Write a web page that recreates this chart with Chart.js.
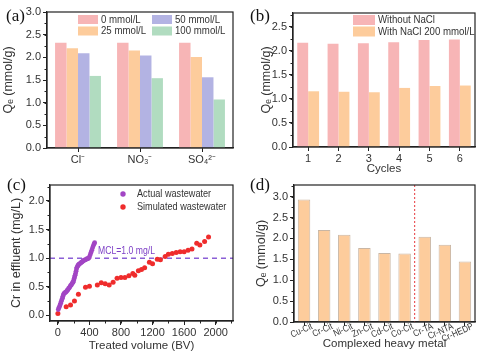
<!DOCTYPE html>
<html><head><meta charset="utf-8">
<script src="https://cdn.jsdelivr.net/npm/chart.js@4"></script>
<style>
html,body{margin:0;padding:0;background:#fff;}
#wrap{position:relative;width:491px;height:356px;overflow:hidden;background:#fff;}
.pn{position:absolute;}
.lbl{position:absolute;font-family:"Liberation Serif","DejaVu Serif",serif;font-size:17px;color:#111;line-height:1;}
</style></head><body>
<div id="wrap">
<div class="pn" style="left:0;top:0;width:245px;height:178px"><canvas id="ca"></canvas></div>
<div class="pn" style="left:245px;top:0;width:246px;height:178px"><canvas id="cb"></canvas></div>
<div class="pn" style="left:0;top:170px;width:245px;height:186px"><canvas id="cc"></canvas></div>
<div class="pn" style="left:245px;top:170px;width:246px;height:186px"><canvas id="cd"></canvas></div>
<div class="lbl" style="left:6px;top:7px">(a)</div>
<div class="lbl" style="left:250px;top:7px">(b)</div>
<div class="lbl" style="left:7px;top:176px">(c)</div>
<div class="lbl" style="left:250px;top:176px">(d)</div>
</div>
<script>
// ---------- data ----------
const anionCats = ['Cl⁻', 'NO₃⁻', 'SO₄²⁻'];
const anionLabels = ['0 mmol/L', '25 mmol/L', '50 mmol/L', '100 mmol/L'];
const anion0 = [2.32, 2.32, 2.32];
const anion25 = [2.20, 2.15, 2.01];
const anion50 = [2.09, 2.04, 1.56];
const anion100 = [1.59, 1.54, 1.07];
const qeTicksA = [0, 0.5, 1.0, 1.5, 2.0, 2.5, 3.0];

const cycles = ['1', '2', '3', '4', '5', '6'];
const withoutNaCl = [2.17, 2.15, 2.16, 2.18, 2.23, 2.24];
const withNaCl = [1.16, 1.15, 1.14, 1.23, 1.27, 1.28];
const qeTicksB = [0, 0.5, 1.0, 1.5, 2.0, 2.5];

const actualBV = [5,12,20,28,35,42,50,57,63,70,78,86,95,104,112,120,128,136,145,153,161,170,178,186,193,200,206,212,218,224,230,236,242,250,258,266,275,284,293,302,311,320,330,340,350,360,370,380,390,400,410,420,430,440,450,460,466];
const actualCr = [0.10,0.13,0.15,0.18,0.21,0.24,0.27,0.30,0.33,0.36,0.38,0.39,0.40,0.41,0.42,0.44,0.45,0.47,0.48,0.50,0.52,0.53,0.55,0.57,0.58,0.61,0.64,0.67,0.70,0.73,0.77,0.81,0.84,0.86,0.88,0.89,0.90,0.91,0.92,0.93,0.94,0.95,0.96,0.97,0.97,0.98,0.99,0.99,1.00,1.02,1.06,1.10,1.14,1.18,1.22,1.25,1.27];
const simBV = [0,105,160,210,260,350,400,500,550,600,650,700,750,800,850,900,950,975,1020,1060,1100,1160,1200,1260,1300,1360,1400,1450,1500,1550,1600,1650,1700,1760,1800,1860,1910];
const simCr = [0.03,0.15,0.18,0.25,0.37,0.49,0.51,0.53,0.57,0.55,0.53,0.58,0.65,0.66,0.66,0.69,0.73,0.70,0.78,0.80,0.83,0.93,0.90,0.98,0.97,1.03,1.07,1.08,1.10,1.11,1.11,1.14,1.16,1.26,1.23,1.29,1.37];
const mclValue = 1.0;
const mclText = 'MCL=1.0 mg/L';
const bvTicks = [0, 400, 800, 1200, 1600, 2000];
const crTicks = [0, 0.5, 1.0, 1.5, 2.0];

const metals = ['Cu-Cit', 'Cr-Cit', 'Ni-Cit', 'Zn-Cit', 'Cd-Cit', 'Co-Cit', 'Cr-TA', 'Cr-NTA', 'Cr-HEDP'];
const metalQe = [2.93, 2.20, 2.09, 1.77, 1.65, 1.64, 2.04, 1.85, 1.45];
const qeTicksD = [0, 0.5, 1.0, 1.5, 2.0, 2.5, 3.0];

// ---------- styling ----------
const PINK = '#f7b5b6', ORANGE = '#fdcc9c', LAV = '#b3b3e3', GREEN = '#b1dcc0';
const PURPLE = '#a245c4', RED = '#ef2c2c';
const AXIS = '#222';
const QE = 'Qₑ (mmol/g)';
const FAM = '"Liberation Sans", Arial, Helvetica, sans-serif';

Chart.defaults.font.family = FAM;
Chart.defaults.font.size = 11;
Chart.defaults.color = '#333';
Chart.defaults.animation = false;
Chart.defaults.plugins.legend.display = false;
Chart.defaults.plugins.tooltip.enabled = false;

function yAxis(min, max, ticks, title, width) {
  return {
    type: 'linear', min, max,
    afterBuildTicks: s => { s.ticks = ticks.map(v => ({ value: v })); },
    afterFit: s => { s.width = width; },
    ticks: { callback: v => Number(v).toFixed(1), padding: 2 },
    grid: { drawOnChartArea: false, drawTicks: true, tickLength: 4, color: AXIS, lineWidth: 1 },
    border: { display: true, color: AXIS, width: 1.2 },
    title: { display: true, text: title, font: { size: 12.5 }, padding: { top: 0, bottom: 2 } }
  };
}
function xCat(height, title, hideTicks, titlePadBottom) {
  return {
    type: 'category', offset: true,
    afterFit: s => { s.height = height; },
    ticks: { display: !hideTicks, padding: 1, autoSkip: false, maxRotation: 0, minRotation: 0 },
    grid: { offset: false, drawOnChartArea: false, drawTicks: true, tickLength: 4, color: AXIS },
    border: { display: true, color: AXIS, width: 1.2 },
    title: title ? { display: true, text: title, font: { size: 11.5 },
                     padding: { top: 0, bottom: titlePadBottom || 0 } } : { display: false }
  };
}

const framePlugin = {
  id: 'frame',
  afterDraw(chart) {
    const a = chart.chartArea, c = chart.ctx;
    c.save(); c.strokeStyle = AXIS; c.lineWidth = 1.2;
    c.strokeRect(a.left, a.top, a.right - a.left, a.bottom - a.top);
    c.restore();
  }
};
const minorPlugin = {
  id: 'minor',
  afterDraw(chart, args, o) {
    const c = chart.ctx; c.save(); c.strokeStyle = AXIS; c.lineWidth = 1;
    ['x', 'y'].forEach(k => {
      const step = o[k]; if (!step) return;
      const s = chart.scales[k];
      for (let v = Math.ceil(s.min / step) * step; v <= s.max + 1e-9; v += step) {
        const p = Math.round(s.getPixelForValue(v)) + 0.5;
        c.beginPath();
        if (k === 'y') { c.moveTo(s.right, p); c.lineTo(s.right - 2.5, p); }
        else { c.moveTo(p, s.top); c.lineTo(p, s.top + 2.5); }
        c.stroke();
      }
    });
    c.restore();
  }
};
function squeezedText(c, text, x, y, sx) {
  c.save(); c.translate(x, y); c.scale(sx, 1); c.fillText(text, 0, 0); c.restore();
}
const legendPlugin = {
  id: 'inLegend',
  afterDraw(chart, args, o) {
    if (!o.items) return;
    const a = chart.chartArea, c = chart.ctx;
    c.save(); c.font = (o.size || 10.5) + 'px ' + FAM;
    c.textBaseline = 'middle';
    o.items.forEach(it => {
      const ds = chart.data.datasets[it.ds];
      const x = a.left + it.x, y = a.top + it.y;
      let tx;
      c.fillStyle = ds.backgroundColor;
      if (o.shape === 'circle') {
        c.beginPath(); c.arc(x, y, 2.7, 0, Math.PI * 2); c.fill(); tx = x + 14;
      } else {
        c.fillRect(x, y - o.bh / 2, o.bw, o.bh); tx = x + o.bw + 3;
      }
      c.fillStyle = '#333';
      squeezedText(c, ds.label, tx, y + 0.5, o.sx || 1);
    });
    c.restore();
  }
};
// slanted category labels (panel d), positioned from the category scale
const slantPlugin = {
  id: 'slant',
  afterDraw(chart, args, o) {
    if (!o.angle) return;
    const s = chart.scales.x, c = chart.ctx;
    c.save();
    c.font = o.size + 'px ' + FAM; c.fillStyle = '#333';
    c.textAlign = 'right'; c.textBaseline = 'middle';
    chart.data.labels.forEach((lab, i) => {
      const x = s.getPixelForValue(i) + o.dx, y = s.top + o.dy;
      c.save(); c.translate(x, y); c.rotate(-o.angle * Math.PI / 180); c.scale(o.sx, 1);
      c.fillText(lab, 0, 0); c.restore();
    });
    c.restore();
  }
};
const refPlugin = {
  id: 'ref',
  beforeDatasetsDraw(chart, args, o) {
    const c = chart.ctx, a = chart.chartArea;
    c.save();
    (o.h || []).forEach(l => {
      const y = chart.scales.y.getPixelForValue(l.value);
      c.strokeStyle = l.color; c.lineWidth = l.width; c.setLineDash(l.dash);
      c.beginPath(); c.moveTo(a.left, y); c.lineTo(a.right, y); c.stroke();
      if (l.label) {
        c.setLineDash([]); c.fillStyle = l.labelColor;
        c.font = '11.5px ' + FAM;
        c.textBaseline = 'bottom';
        squeezedText(c, l.label, chart.scales.x.getPixelForValue(l.labelAt), y - 2, 0.75);
      }
    });
    (o.v || []).forEach(l => {
      const sx = chart.scales.x;
      const x = (sx.getPixelForValue(l.between[0]) + sx.getPixelForValue(l.between[1])) / 2;
      c.strokeStyle = l.color; c.lineWidth = l.width; c.setLineDash(l.dash);
      c.beginPath(); c.moveTo(x, a.top); c.lineTo(x, a.bottom); c.stroke();
    });
    c.restore();
  }
};
const plugins = [framePlugin, minorPlugin, legendPlugin, refPlugin, slantPlugin];

// ---------- (a) ----------
const barA = { barPercentage: 1.0, categoryPercentage: 0.74 };
new Chart(document.getElementById('ca'), {
  type: 'bar',
  data: {
    labels: anionCats,
    datasets: [
      Object.assign({ label: anionLabels[0], data: anion0, backgroundColor: PINK }, barA),
      Object.assign({ label: anionLabels[1], data: anion25, backgroundColor: ORANGE }, barA),
      Object.assign({ label: anionLabels[2], data: anion50, backgroundColor: LAV }, barA),
      Object.assign({ label: anionLabels[3], data: anion100, backgroundColor: GREEN }, barA)
    ]
  },
  options: {
    responsive: true, maintainAspectRatio: false,
    layout: { padding: { left: 1, top: 12, right: 12, bottom: 0 } },
    scales: { x: xCat(30), y: yAxis(0, 3.0, qeTicksA, QE, 46) },
    plugins: {
      minor: { y: 0.25 },
      inLegend: { bw: 20, bh: 9, sx: 0.92, items: [
        { ds: 0, x: 31, y: 7.5 }, { ds: 2, x: 105, y: 7.5 },
        { ds: 1, x: 31, y: 19 }, { ds: 3, x: 105, y: 19 }] }
    }
  },
  plugins
});

// ---------- (b) ----------
const barB = { barPercentage: 1.0, categoryPercentage: 0.72 };
new Chart(document.getElementById('cb'), {
  type: 'bar',
  data: {
    labels: cycles,
    datasets: [
      Object.assign({ label: 'Without NaCl', data: withoutNaCl, backgroundColor: PINK }, barB),
      Object.assign({ label: 'With NaCl 200 mmol/L', data: withNaCl, backgroundColor: ORANGE }, barB)
    ]
  },
  options: {
    responsive: true, maintainAspectRatio: false,
    layout: { padding: { left: 14, top: 13, right: 16, bottom: 2 } },
    scales: { x: xCat(29, 'Cycles'), y: yAxis(0, 2.79, qeTicksB, QE, 34) },
    plugins: {
      minor: { y: 0.25 },
      inLegend: { bw: 22, bh: 10, sx: 0.92, items: [{ ds: 0, x: 60, y: 7 }, { ds: 1, x: 60, y: 18.5 }] }
    }
  },
  plugins
});

// ---------- (c) ----------
const cx = {
  type: 'linear', min: -100, max: 2220,
  afterBuildTicks: s => { s.ticks = bvTicks.map(v => ({ value: v })); },
  afterFit: s => { s.height = 33; },
  ticks: { padding: 1, callback: v => String(v) },
  grid: { drawOnChartArea: false, drawTicks: true, tickLength: 4, color: AXIS },
  border: { display: true, color: AXIS, width: 1.2 },
  title: { display: true, text: 'Treated volume (BV)', font: { size: 11.5 }, padding: { top: 0, bottom: 1 } }
};
new Chart(document.getElementById('cc'), {
  type: 'scatter',
  data: {
    datasets: [
      { label: 'Actual wastewater', data: actualBV.map((x, i) => ({ x, y: actualCr[i] })),
        backgroundColor: PURPLE, borderColor: PURPLE, pointRadius: 2.4, borderWidth: 0 },
      { label: 'Simulated wastewater', data: simBV.map((x, i) => ({ x, y: simCr[i] })),
        backgroundColor: RED, borderColor: RED, pointRadius: 2.5, borderWidth: 0 }
    ]
  },
  options: {
    responsive: true, maintainAspectRatio: false,
    layout: { padding: { left: 9, top: 15, right: 12, bottom: 2 } },
    scales: { x: cx, y: yAxis(-0.1, 2.28, crTicks, 'Cr in effluent (mg/L)', 41) },
    plugins: {
      minor: { y: 0.25, x: 200 },
      inLegend: { shape: 'circle', size: 10.5, sx: 0.87, items: [{ ds: 0, x: 73, y: 9 }, { ds: 1, x: 73, y: 22 }] },
      ref: { h: [{ value: mclValue, color: '#8b5fd6', width: 1.5, dash: [5, 4],
                   label: mclText, labelColor: '#7d3fc6', labelAt: 510 }] }
    }
  },
  plugins
});

// ---------- (d) ----------
new Chart(document.getElementById('cd'), {
  type: 'bar',
  data: {
    labels: metals,
    datasets: [{ label: 'Qe', data: metalQe, backgroundColor: ORANGE, borderColor: '#c9b6a4',
                 borderWidth: 1, barPercentage: 0.62, categoryPercentage: 1.0 }]
  },
  options: {
    responsive: true, maintainAspectRatio: false,
    layout: { padding: { left: 9, top: 15, right: 16, bottom: 0 } },
    scales: { x: xCat(34, 'Complexed heavy metal', true, 5), y: yAxis(0, 3.28, qeTicksD, QE, 40) },
    plugins: {
      minor: { y: 0.25 },
      slant: { angle: 24, size: 9.5, sx: 0.85, dx: 8, dy: 4 },
      ref: { v: [{ between: [5, 6], color: '#e8393c', width: 1, dash: [2, 2] }] }
    }
  },
  plugins
});
</script>
</body></html>
